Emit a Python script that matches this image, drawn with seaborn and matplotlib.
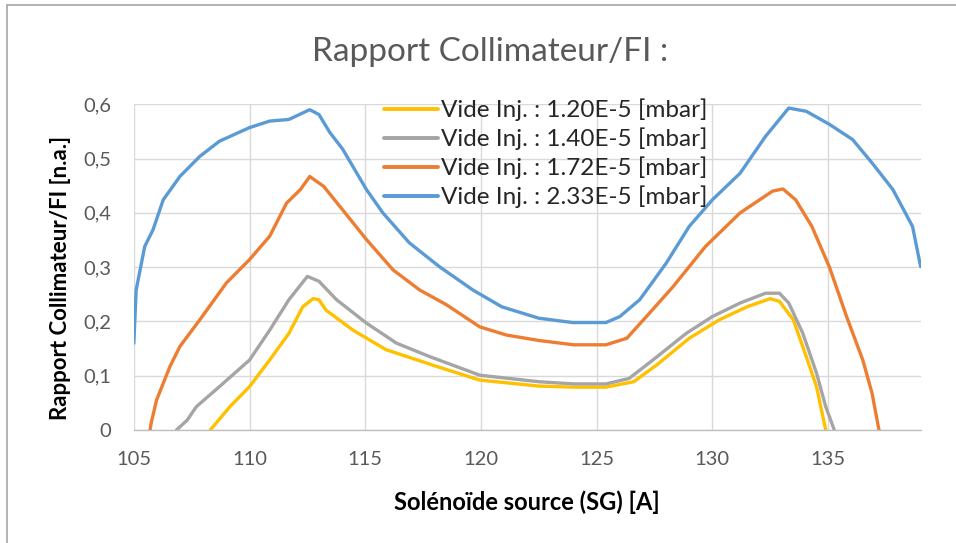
import matplotlib
matplotlib.use("Agg")
import matplotlib.pyplot as plt
import seaborn as sns
import pandas as pd
from matplotlib.lines import Line2D

# --- data -------------------------------------------------------------------
labels = [
    "Vide Inj. : 1.20E-5 [mbar]",
    "Vide Inj. : 1.40E-5 [mbar]",
    "Vide Inj. : 1.72E-5 [mbar]",
    "Vide Inj. : 2.33E-5 [mbar]",
]
colors = ["#FFC000", "#A5A5A5", "#ED7D31", "#5B9BD5"]

x_120 = [108.3, 109.15, 110.0, 110.87, 111.7, 112.3, 112.75, 113.0, 113.3, 114.47,
         115.9, 118.1, 119.95, 122.5, 124.0, 125.4, 126.6, 127.6, 129.0, 130.3,
         131.5, 132.5, 132.9, 133.5, 134.06, 134.5, 134.9]
y_120 = [0.0, 0.043, 0.08, 0.129, 0.178, 0.227, 0.242, 0.24, 0.221, 0.184,
         0.148, 0.117, 0.092, 0.081, 0.079, 0.079, 0.089, 0.12, 0.169, 0.203,
         0.227, 0.242, 0.237, 0.203, 0.135, 0.08, 0.0]

x_140 = [106.84, 107.3, 107.7, 108.7, 110.0, 110.87, 111.7, 112.5, 113.0, 113.76,
         115.05, 116.35, 117.8, 119.95, 122.5, 124.0, 125.4, 126.4, 127.43, 128.87,
         130.0, 131.2, 132.3, 132.9, 133.3, 133.9, 134.5, 134.9, 135.27]
y_140 = [0.0, 0.018, 0.043, 0.08, 0.129, 0.184, 0.24, 0.283, 0.274, 0.24,
         0.197, 0.16, 0.135, 0.101, 0.089, 0.085, 0.085, 0.095, 0.129, 0.178,
         0.209, 0.234, 0.252, 0.252, 0.234, 0.179, 0.105, 0.043, 0.0]

x_172 = [105.7, 105.75, 105.98, 106.56, 106.99, 107.85, 109.0, 110.0, 110.87, 111.6,
         112.2, 112.6, 113.2, 113.9, 115.05, 116.2, 117.35, 118.5, 119.95, 121.1,
         122.5, 124.0, 125.4, 126.3, 127.15, 128.3, 129.7, 131.2, 132.6, 133.05,
         133.6, 134.3, 135.06, 135.8, 136.5, 136.9, 137.2]
y_172 = [0.0, 0.013, 0.055, 0.117, 0.154, 0.203, 0.271, 0.314, 0.357, 0.418,
         0.443, 0.467, 0.449, 0.412, 0.351, 0.295, 0.258, 0.231, 0.19, 0.175,
         0.165, 0.157, 0.157, 0.169, 0.209, 0.264, 0.338, 0.40, 0.44, 0.444,
         0.424, 0.375, 0.30, 0.209, 0.129, 0.068, 0.0]

x_233 = [105.0, 105.1, 105.47, 105.83, 106.27, 106.99, 107.85, 108.7, 110.0, 110.87,
         111.7, 112.6, 113.0, 113.47, 114.03, 115.05, 115.76, 116.9, 118.2, 119.65,
         120.9, 122.5, 123.96, 125.4, 126.0, 126.86, 128.0, 129.0, 130.0, 131.2,
         132.3, 133.3, 134.06, 135.06, 136.06, 136.9, 137.8, 138.65, 139.0]
y_233 = [0.16, 0.258, 0.338, 0.369, 0.424, 0.467, 0.504, 0.532, 0.557, 0.569,
         0.572, 0.59, 0.581, 0.548, 0.517, 0.443, 0.40, 0.345, 0.301, 0.258,
         0.227, 0.206, 0.198, 0.198, 0.209, 0.24, 0.307, 0.375, 0.424, 0.473,
         0.541, 0.593, 0.587, 0.563, 0.535, 0.492, 0.443, 0.375, 0.301]

x_ticks = [105, 110, 115, 120, 125, 130, 135]
y_ticks = [0, 0.1, 0.2, 0.3, 0.4, 0.5, 0.6]
y_tick_labels = ["0", "0,1", "0,2", "0,3", "0,4", "0,5", "0,6"]

# --- long-form table --------------------------------------------------------
frames = []
for lab, xs, ys in zip(labels, [x_120, x_140, x_172, x_233], [y_120, y_140, y_172, y_233]):
    frames.append(pd.DataFrame({"I": xs, "R": ys, "serie": lab}))
df = pd.concat(frames, ignore_index=True)

# --- figure -----------------------------------------------------------------
sns.set_theme(style="white")
plt.rcParams["font.family"] = ["Lato", "DejaVu Sans"]

fig = plt.figure(figsize=(9.56, 5.43), dpi=100)
ax = fig.add_axes([0.140, 0.208, 0.823, 0.600])

sns.lineplot(data=df, x="I", y="R", hue="serie", hue_order=labels,
             palette=colors, sort=False, estimator=None, linewidth=2.4,
             legend=False, ax=ax)

ax.set_xlim(105, 139)
ax.set_ylim(0, 0.6)
ax.set_xticks(x_ticks)
ax.set_xticklabels([str(t) for t in x_ticks])
ax.set_yticks(y_ticks)
ax.set_yticklabels(y_tick_labels)
ax.grid(True, color="#D9D9D9", linewidth=1.0)
ax.set_axisbelow(True)
for side in ["top", "right", "left"]:
    ax.spines[side].set_visible(False)
ax.spines["bottom"].set_color("#BFBFBF")
ax.spines["bottom"].set_linewidth(1.0)
ax.tick_params(axis="both", length=0, labelsize=14.5, colors="#595959")
ax.tick_params(axis="x", pad=15)
ax.tick_params(axis="y", pad=16)

ax.set_xlabel("Solénoïde source (SG) [A]", fontsize=17, fontweight="bold",
              color="black", labelpad=16)
ax.set_ylabel("Rapport Collimateur/FI [n.a.]", fontsize=16, fontweight="bold",
              color="black")
ax.yaxis.set_label_coords(-0.0805, 0.466)

fig.text(0.513, 0.904, "Rapport Collimateur/FI :", ha="center", va="center",
         fontsize=24, color="#595959")

handles = [Line2D([0], [0], color=c, linewidth=2.8) for c in colors]
leg = ax.legend(handles, labels, loc="upper left", bbox_to_anchor=(0.306, 1.047),
                frameon=False, fontsize=17.5, handlelength=2.2, handletextpad=0.15,
                labelspacing=0.26, borderaxespad=0.0)

# chart-area frame on the top and left edges
fig.add_artist(Line2D([0.0073, 0.0073], [0.0, 0.991], transform=fig.transFigure,
                      color="#A6A6A6", linewidth=1.2))
fig.add_artist(Line2D([0.0073, 1.0], [0.991, 0.991], transform=fig.transFigure,
                      color="#A6A6A6", linewidth=1.2))

fig.savefig("out.png", dpi=100)
